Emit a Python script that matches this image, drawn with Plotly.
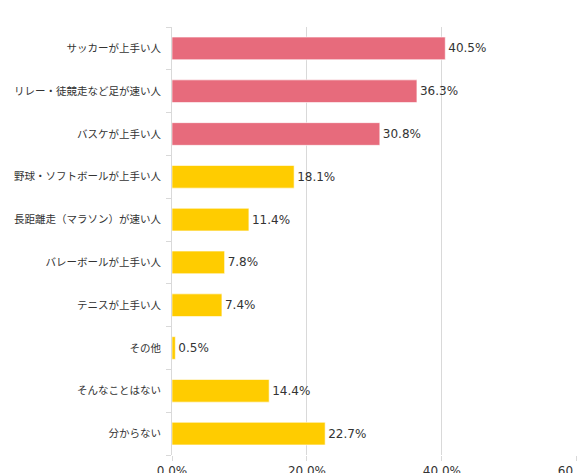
import plotly.graph_objects as go

# categories (top to bottom) and values in %
categories = [
    'サッカーが上手い人',
    'リレー・徒競走など足が速い人',
    'バスケが上手い人',
    '野球・ソフトボールが上手い人',
    '長距離走（マラソン）が速い人',
    'バレーボールが上手い人',
    'テニスが上手い人',
    'その他',
    'そんなことはない',
    '分からない',
]
values = [40.5, 36.3, 30.8, 18.1, 11.4, 7.8, 7.4, 0.5, 14.4, 22.7]
bar_colors = ['#E76B7C'] * 3 + ['#FFCC00'] * 7
tick_vals = [0, 20, 40, 60]
tick_text = ['0.0%', '20.0%', '40.0%', '60.0%']

fig = go.Figure(go.Bar(
    x=values,
    y=categories,
    orientation='h',
    width=0.53,
    marker=dict(color=bar_colors, line=dict(color='rgba(255,255,255,0.6)', width=1)),
    text=[f'{v:.1f}%' for v in values],
    textposition='outside',
    textfont=dict(family='DejaVu Sans', size=12, color='#333333'),
    cliponaxis=False,
    hoverinfo='skip',
))

# the page adds an 8px body margin, so the figure is a bit smaller
fig.update_layout(
    width=577,
    height=465,
    margin=dict(l=164, r=8, t=19, b=18),
    plot_bgcolor='white',
    paper_bgcolor='white',
    font=dict(family='Noto Sans CJK JP, Noto Sans, sans-serif', color='#333333'),
    showlegend=False,
)

fig.update_xaxes(
    range=[0, 60.02],
    tickvals=tick_vals,
    ticktext=tick_text,
    showgrid=True,
    gridcolor='#D9D9D9',
    gridwidth=1,
    zeroline=False,
    ticks='outside',
    ticklen=5,
    tickcolor='#D9D9D9',
    tickfont=dict(family='DejaVu Sans', size=12, color='#333333'),
    ticklabeloverflow='allow',
    automargin=False,
    fixedrange=True,
)

fig.update_yaxes(
    categoryorder='array',
    categoryarray=categories[::-1],
    showline=True,
    linecolor='#D9D9D9',
    linewidth=1,
    ticks='outside',
    tickson='boundaries',
    ticklen=5,
    tickcolor='#D9D9D9',
    ticklabelstandoff=8,
    tickfont=dict(size=10.5, color='#333333'),
    automargin=False,
    fixedrange=True,
)

fig.write_html('out.html')
